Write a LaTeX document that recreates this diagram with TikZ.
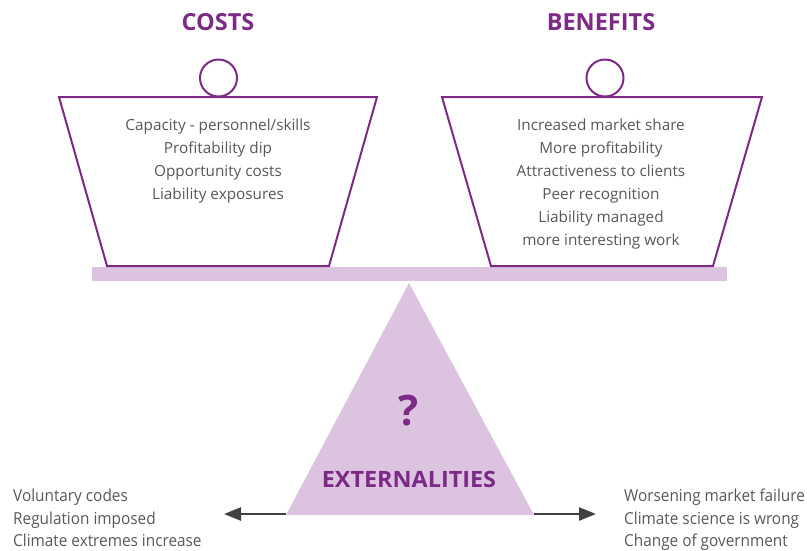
\documentclass[tikz,border=0pt]{standalone}
\usepackage{fontspec}
\setmainfont{Open Sans}
\usetikzlibrary{arrows.meta}
\definecolor{purp}{HTML}{7D2A86}
\definecolor{lav}{HTML}{DCC4E1}
\definecolor{txt}{HTML}{585858}
\definecolor{arr}{HTML}{404040}
\newcommand{\sq}[1]{\scalebox{0.93}[1]{#1}}
\begin{document}
\begin{tikzpicture}[x=1pt,y=-1pt,
  title/.style={text=purp,font=\fontsize{23.5}{26}\selectfont\bfseries,inner sep=0pt},
  pan/.style={draw=purp,line width=2pt,fill=white,line join=miter},
  knob/.style={draw=purp,line width=2pt,fill=white},
  list/.style={text=txt,font=\fontsize{15.3}{23}\selectfont,align=center,inner sep=0pt,anchor=north},
  side/.style={text=txt,font=\fontsize{16.5}{22.5}\selectfont,align=left,inner sep=0pt,anchor=north west},
  ext/.style={-{Triangle[length=17pt,width=13pt]},draw=arr,line width=2.5pt}]
\useasboundingbox (0,0) rectangle (807,550);
% titles
\node[title] (costs) at (218,22) {COSTS};
\node[title] (benefits) at (601,22) {BENEFITS};
% bar
\fill[lav] (92,267) rectangle (727,281);
% left pan
\draw[pan] (59,97) -- (377,97) -- (329,266) -- (107,266) -- cycle;
\draw[knob] (218.5,78) circle[radius=18.5pt];
% right pan
\draw[pan] (442,97) -- (762,97) -- (713,266) -- (491,266) -- cycle;
\draw[knob] (605,78) circle[radius=18.5pt];
% lists
\node[list] (clist) at (218,119) {Capacity - personnel/skills\\Profitability dip\\Opportunity costs\\Liability exposures};
\node[list] (blist) at (601,118.5) {Increased market share\\More profitability\\Attractiveness to clients\\Peer recognition\\Liability managed\\more interesting work};
% fulcrum
\coordinate (apex) at (409,283);
\coordinate (bl) at (286,515);
\coordinate (br) at (534,515);
\fill[lav] (apex) -- (br) -- (bl) -- cycle;
\node[text=purp,font=\fontsize{42}{44}\selectfont\bfseries,inner sep=0pt] (q) at (409,411) {?};
\node[text=purp,font=\fontsize{22.5}{24}\selectfont\bfseries,inner sep=0pt] (ext) at (409,479) {\scalebox{1.04}[1]{EXTERNALITIES}};
% arrows
\coordinate (la) at (224,514);
\coordinate (ra) at (596,514);
\draw[ext] (bl |- la) -- (la);
\draw[ext] (br |- ra) -- (ra);
% side texts
\node[side] (ltxt) at (13,489) {\sq{Voluntary codes}\\\sq{Regulation imposed}\\\sq{Climate extremes increase}};
\node[side] (rtxt) at (624,489) {\sq{Worsening market failure}\\\sq{Climate science is wrong}\\\sq{Change of government}};
\end{tikzpicture}
\end{document}
